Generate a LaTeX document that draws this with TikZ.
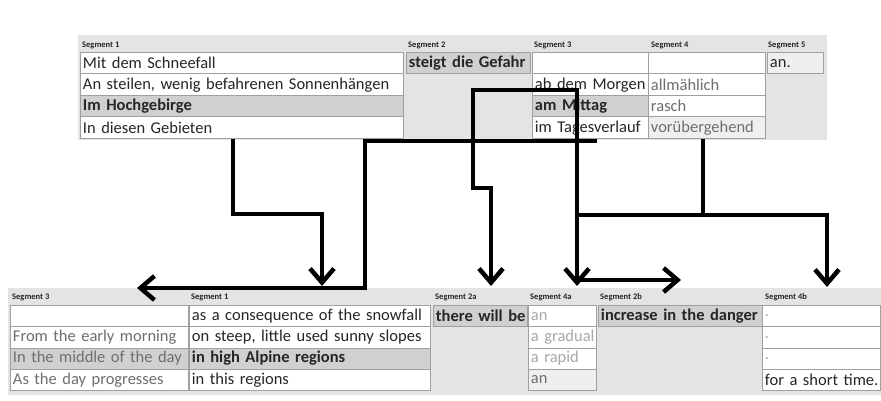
\documentclass[tikz,border=0pt]{standalone}
\usepackage{fontspec}
\setmainfont{Carlito}
\usetikzlibrary{arrows.meta}

\definecolor{panel}{HTML}{E4E4E4}
\definecolor{cellline}{HTML}{A0A0A0}
\definecolor{shade}{HTML}{D0D0D0}
\definecolor{darktext}{HTML}{262626}
\definecolor{paletext}{HTML}{6E6E6E}
\definecolor{fainttext}{HTML}{A8A8A8}

\newcommand{\cellfont}{\fontsize{16.5}{18}\selectfont}
\newcommand{\segfont}{\fontsize{8.5}{9}\selectfont\bfseries}

\tikzset{
  panelbox/.style={fill=panel, draw=none, anchor=north west, inner sep=0pt},
  seglabel/.style={anchor=west, font=\segfont, text=darktext, inner sep=0pt},
  cell/.style={draw=cellline, line width=0.9pt, fill=white, anchor=north west,
    minimum height=21.5pt, inner xsep=2.5pt, inner ysep=0pt, text=darktext,
    font=\cellfont, align=left},
  cw/.style={text width=#1-5},
  plain/.style={},
  shaded/.style={fill=shade, font=\cellfont\bfseries},
  pale/.style={text=paletext},
  faint/.style={text=fainttext},
  paleshade/.style={fill=shade, text=paletext},
  palefill/.style={fill=panel!60!white, text=paletext},
  link/.style={line width=4.5pt, black, >={Straight Barb[length=14pt,width=24pt]}},
}

\begin{document}
\begin{tikzpicture}[x=1pt,y=-1pt]
\useasboundingbox (0,0) rectangle (881,401);

% grey panels behind the two tables
\node[panelbox, minimum width=749pt, minimum height=105pt] (upper) at (78,35) {};
\node[panelbox, minimum width=873pt, minimum height=107pt] (lower) at (8,288) {};

% German sentence
\node[seglabel] (u1) at (82,45) {Segment 1};
\node[seglabel] (u2) at (408,45) {Segment 2};
\node[seglabel] (u3) at (534,45) {Segment 3};
\node[seglabel] (u4) at (651,45) {Segment 4};
\node[seglabel] (u5) at (768,45) {Segment 5};

\foreach \txt/\sty [count=\i] in {Mit dem Schneefall/plain, {An steilen, wenig befahrenen Sonnenhängen}/plain, Im Hochgebirge/shaded, In diesen Gebieten/plain}
  \node[cell, cw=323, \sty] (g1-\i) at (80,30.5+21.5*\i) {\mbox{\txt}};
\node[cell, cw=124, shaded] (g2) at (406,52) {\mbox{steigt die Gefahr}};
\foreach \txt/\sty [count=\i] in {/plain, ab dem Morgen/plain, am Mittag/shaded, im Tagesverlauf/plain}
  \node[cell, cw=116, \sty] (g3-\i) at (532,30.5+21.5*\i) {\mbox{\txt}};
\foreach \txt/\sty [count=\i] in {/plain, allmählich/pale, rasch/pale, vorübergehend/palefill}
  \node[cell, cw=117, \sty] (g4-\i) at (648,30.5+21.5*\i) {\mbox{\txt}};
\node[cell, cw=56, palefill, text=darktext] (g5) at (767,52) {an.};

% English sentence
\node[seglabel] (l3) at (12,297) {Segment 3};
\node[seglabel] (l1) at (191,297) {Segment 1};
\node[seglabel] (l2a) at (435,297) {Segment 2a};
\node[seglabel] (l4a) at (530,297) {Segment 4a};
\node[seglabel] (l2b) at (600,297) {Segment 2b};
\node[seglabel] (l4b) at (765,297) {Segment 4b};

\begin{scope}[cell/.append style={minimum height=21.25pt}]
\foreach \txt/\sty [count=\i] in {/plain, From the early morning/pale, In the middle of the day/paleshade, As the day progresses/pale}
  \node[cell, cw=178, \sty] (e3-\i) at (10,283.75+21.25*\i) {\mbox{\txt}};
\foreach \txt/\sty [count=\i] in {as a consequence of the snowfall/plain, {on steep, little used sunny slopes}/plain, in high Alpine regions/shaded, in this regions/plain}
  \node[cell, cw=241, \sty] (e1-\i) at (189,283.75+21.25*\i) {\mbox{\txt}};
\node[cell, cw=94, shaded] (e2a) at (433,305) {\mbox{there will be}};
\foreach \txt/\sty [count=\i] in {an/faint, a gradual/faint, a rapid/faint, an/palefill}
  \node[cell, cw=68, \sty] (e4a-\i) at (528,283.75+21.25*\i) {\mbox{\txt}};
\node[cell, cw=164, shaded] (e2b) at (598,305) {\mbox{increase in the danger}};
\foreach \txt/\sty [count=\i] in {./faint, ./faint, ./faint, for a short time./plain}
  \node[cell, cw=118, \sty] (e4b-\i) at (762,283.75+21.25*\i) {\mbox{\txt}};
\end{scope}

% connector points
\coordinate (a1) at (233,139);  \coordinate (m1) at (322,214);  \coordinate (z1) at (322,286);
\coordinate (a2) at (597,141);  \coordinate (m2) at (365,288);  \coordinate (z3) at (137,288);
\coordinate (m3) at (473,90);   \coordinate (m4) at (491,188);  \coordinate (z2a) at (491,286);
\coordinate (z4a) at (577,286); \coordinate (z2b) at (681,280);
\coordinate (a4) at (703,139);  \coordinate (m5) at (703,215);  \coordinate (z4b) at (827,287);

\draw[link,->] (a1) |- (m1) -- (z1);
\draw[link,->] (a2) -| (m2) -- (z3);
\draw[link,<->] (z4a) |- (m3) |- (m4) -- (z2a);
\draw[link] (a4) -- (m5);
\draw[link,->] (z4a |- m5) -| (z4b);
\draw[link,->] (z4a |- z2b) -- (z2b);
\end{tikzpicture}
\end{document}
